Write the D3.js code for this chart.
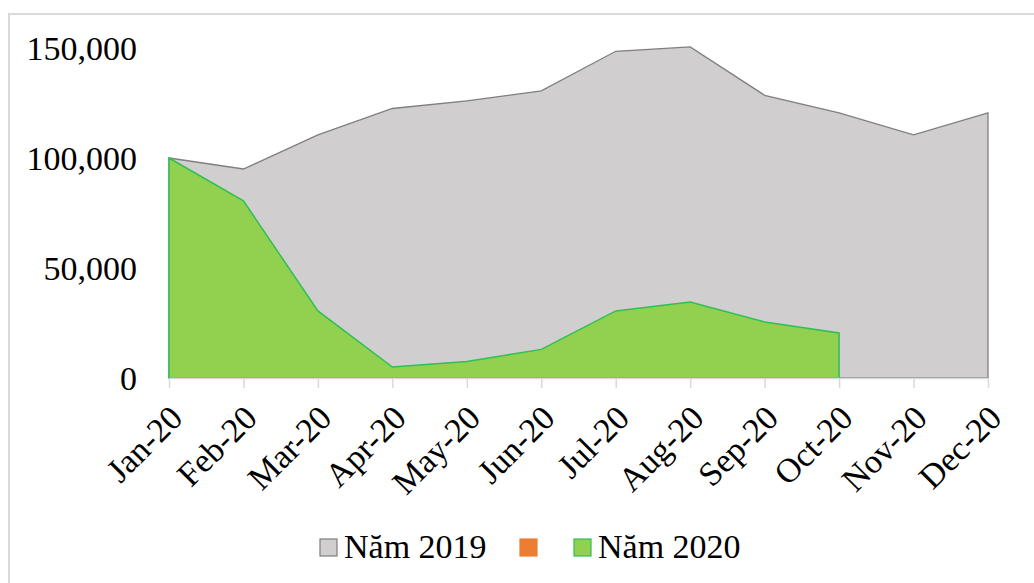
<!DOCTYPE html>
<html>
<head>
<meta charset="utf-8">
<script src="https://cdn.jsdelivr.net/npm/d3@7"></script>
<style>
  body { margin: 0; background: #fff; }
  svg { display: block; }
</style>
</head>
<body>
<div class="chart"></div>
<script>
/** chart data */
const months = ['Jan-20', 'Feb-20', 'Mar-20', 'Apr-20', 'May-20', 'Jun-20',
                'Jul-20', 'Aug-20', 'Sep-20', 'Oct-20', 'Nov-20', 'Dec-20'];
const values2019 = [100000, 95000, 110500, 122500, 126000, 130500,
                    148500, 150500, 128500, 120500, 110500, 120500];
const values2020 = [100000, 80500, 30500, 5000, 7500, 13000,
                    30500, 34500, 25500, 20500];
const yTicks = [0, 50000, 100000, 150000];
const legendNames = ['Năm 2019', '', 'Năm 2020'];

/** canvas */
let width = 1034, height = 583;
let svg = d3.select('.chart').append('svg')
    .attr('width', width)
    .attr('height', height);

// outer frame (left + top visible)
svg.append('rect')
    .attr('x', 9).attr('y', 14)
    .attr('width', 1100).attr('height', 700)
    .attr('fill', 'none')
    .attr('stroke', '#d9d9d9')
    .attr('stroke-width', 2);

let x = d3.scalePoint().domain(months).range([169, 988]);
let y = d3.scaleLinear().domain([0, 150000]).range([378, 48]);

let font = '"Liberation Serif", "Times New Roman", serif';

/** areas */
let area = d3.area()
    .x((d, i) => x(months[i]))
    .y0(y(0))
    .y1(d => y(d));

svg.append('path')
    .datum(values2019)
    .attr('d', area)
    .attr('fill', '#d0cecf')
    .attr('stroke', '#7f7f7f')
    .attr('stroke-width', 1.3);

svg.append('path')
    .datum(values2020)
    .attr('d', area)
    .attr('fill', '#92d050')
    .attr('stroke', '#2fbf55')
    .attr('stroke-width', 1.5);

/** x axis */
let xAxis = svg.append('g')
    .attr('transform', 'translate(0,' + y(0) + ')')
    .call(d3.axisBottom(x).tickSize(10).tickSizeOuter(0).tickPadding(0));
xAxis.attr('font-family', font);
xAxis.select('.domain').attr('stroke', '#d9d9d9').attr('stroke-width', 1.5);
xAxis.selectAll('.tick line').attr('stroke', '#d9d9d9').attr('stroke-width', 1.5);
xAxis.selectAll('.tick text')
    .attr('font-family', font)
    .attr('font-size', 34)
    .attr('fill', '#000')
    .attr('text-anchor', 'end')
    .attr('dy', 0)
    .attr('transform', 'translate(8,35) rotate(-45)');

/** y axis labels */
let yAxis = svg.append('g')
    .attr('transform', 'translate(137,0)')
    .call(d3.axisLeft(y).tickValues(yTicks).tickSize(0).tickPadding(0)
          .tickFormat(d3.format(',')));
yAxis.attr('font-family', font);
yAxis.select('.domain').remove();
yAxis.selectAll('.tick text')
    .attr('font-family', font)
    .attr('font-size', 34)
    .attr('fill', '#000')
    .attr('dy', '0.33em');

/** legend */
let legendX = [320, 520, 574];
let legendFill = ['#d0cecf', '#ed7d31', '#92d050'];
let legendStroke = ['#7f7f7f', '#ed7d31', '#2fbf55'];
let legend = svg.append('g');
legendNames.forEach(function (name, i) {
    legend.append('rect')
        .attr('x', legendX[i]).attr('y', 539)
        .attr('width', 17).attr('height', 17)
        .attr('fill', legendFill[i])
        .attr('stroke', legendStroke[i])
        .attr('stroke-width', 1.2);
    if (name) {
        legend.append('text')
            .attr('x', legendX[i] + 24)
            .attr('y', 558)
            .attr('font-family', font)
            .attr('font-size', 34)
            .attr('fill', '#000')
            .text(name);
    }
});
</script>
</body>
</html>
